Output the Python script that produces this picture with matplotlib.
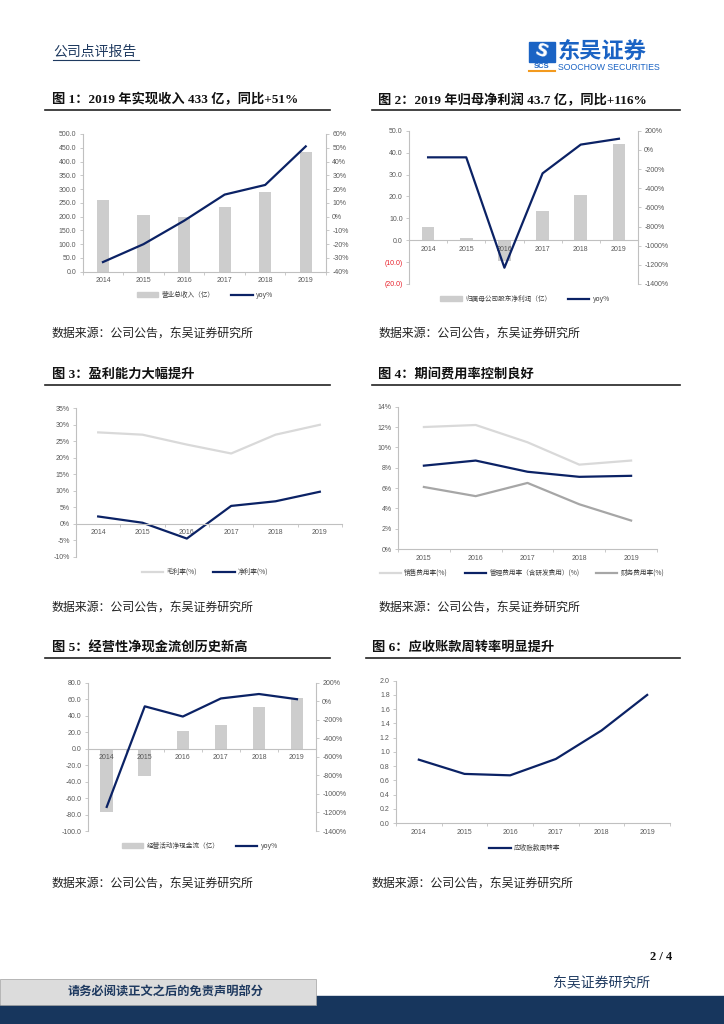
import numpy as np
import matplotlib.pyplot as plt
from matplotlib.patches import Rectangle, Patch
from matplotlib.lines import Line2D

plt.rcParams['font.family'] = ['Liberation Sans', 'Noto Sans CJK SC', 'DejaVu Sans']

W, H = 724, 1024
NAVY = '#0b2265'
BAR = '#cdcdcd'
TICK = '#595959'
SPINE = '#c0c0c0'
CJK = ['Noto Sans CJK SC', 'DejaVu Sans']
SERIF = ['Liberation Serif', 'Noto Sans CJK SC']

# ---- datos ----
anios = ['2014', '2015', '2016', '2017', '2018', '2019']
anios_gastos = ['2015', '2016', '2017', '2018', '2019']

ingresos = [260, 207, 200, 234, 288, 433]
ingresos_yoy = [-33, -20, -3, 16, 23, 51]

beneficio = [6.0, 1.0, -9.5, 13.3, 20.5, 43.7]
beneficio_yoy = [-78, -78, -1230, -245, 55, 116]

margen_bruto = [27.7, 27.0, 24.0, 21.3, 27.0, 30.0]
margen_neto = [2.2, 0.3, -4.5, 5.4, 6.8, 9.7]

gasto_ventas = [12.0, 12.2, 10.5, 8.3, 8.7]
gasto_admin = [8.2, 8.7, 7.6, 7.1, 7.2]
gasto_fin = [6.1, 5.2, 6.5, 4.4, 2.8]

flujo_caja = [-77, -33, 21.5, 29, 51, 62]
flujo_yoy = [-1140, -55, -165, 30, 78, 22]

rotacion = [0.89, 0.69, 0.67, 0.90, 1.30, 1.80]

fig = plt.figure(figsize=(W / 100, H / 100), dpi=100)


def caja(x0, y0, x1, y1):
    return [x0 / W, 1 - y1 / H, (x1 - x0) / W, (y1 - y0) / H]


def fx(x):
    return x / W


def fy(y):
    return 1 - y / H


def estilo(ax):
    for s in ['top', 'right']:
        ax.spines[s].set_visible(False)
    ax.spines['left'].set_color(SPINE)
    ax.spines['bottom'].set_color(SPINE)
    ax.spines['left'].set_linewidth(0.8)
    ax.spines['bottom'].set_linewidth(0.8)
    ax.tick_params(axis='y', labelsize=5, colors=TICK, length=2.5, width=0.6, pad=2)
    ax.tick_params(axis='y', color=SPINE)
    ax.tick_params(axis='x', which='major', length=0, labelsize=5, labelcolor=TICK, pad=4)
    ax.tick_params(axis='x', which='minor', length=2.5, color=SPINE, width=0.6)
    ax.set_facecolor('none')


def eje_derecho(ax):
    ax2 = ax.twinx()
    for s in ['top', 'left', 'bottom']:
        ax2.spines[s].set_visible(False)
    ax2.spines['right'].set_color(SPINE)
    ax2.spines['right'].set_linewidth(0.8)
    ax2.tick_params(axis='y', labelsize=5, labelcolor=TICK, color=SPINE, length=2.5, width=0.6, pad=2)
    return ax2


def leyenda(ax, handles, labels, cx, cy):
    ax.legend(handles, labels, loc='center', bbox_to_anchor=(fx(cx), fy(cy)),
              bbox_transform=fig.transFigure, ncol=len(labels), frameon=False,
              prop={'family': CJK, 'size': 4.8}, labelcolor='#404040',
              handlelength=3.2, columnspacing=2.5, handletextpad=0.5)


def cabecera(texto, x, y, x0, x1):
    fig.text(fx(x), fy(y), texto, family=SERIF, weight='bold', fontsize=9.5,
             va='center', ha='left', color='#111111')
    fig.add_artist(Line2D([fx(x0), fx(x1)], [fy(y + 10), fy(y + 10)], color='#222222', lw=1.2))


def fuente(x, y):
    fig.text(fx(x), fy(y), '数据来源：公司公告，东吴证券研究所', family=CJK, fontsize=8.6,
             va='center', ha='left', color='#222222')


x = np.arange(len(anios))
bordes = np.arange(len(anios) + 1) - 0.5

# ---- Figura 1 ----
ax = fig.add_axes(caja(82.7, 134, 326, 271.7))
estilo(ax)
ax.bar(x, ingresos, width=0.3, color=BAR)
ax.set_ylim(0, 500)
ax.set_yticks(np.arange(0, 501, 50), [f'{v:.1f}' for v in np.arange(0, 501, 50)])
ax.set_xlim(-0.5, 5.5)
ax.set_xticks(x, anios)
ax.set_xticks(bordes, minor=True)
ax2 = eje_derecho(ax)
ax2.plot(x, ingresos_yoy, color=NAVY, lw=1.6)
ax2.set_ylim(-40, 60)
ax2.set_yticks(np.arange(-40, 61, 10), [f'{v}%' for v in range(-40, 61, 10)])
leyenda(ax, [Patch(color=BAR), Line2D([], [], color=NAVY, lw=1.6)],
        ['营业总收入（亿）', 'yoy%'], 205, 295)

# ---- Figura 2 ----
ax = fig.add_axes(caja(409, 130.7, 638, 284))
estilo(ax)
ax.bar(x, beneficio, width=0.33, color=BAR)
ax.set_ylim(-20, 50)
t = np.arange(-20, 51, 10)
ax.set_yticks(t, [f'({abs(v):.1f})' if v < 0 else f'{v:.1f}' for v in t])
for lab, v in zip(ax.get_yticklabels(), t):
    if v < 0:
        lab.set_color('#e8202a')
ax.spines['bottom'].set_position(('data', 0))
ax.set_xlim(-0.5, 5.5)
ax.set_xticks(x, anios)
ax.set_xticks(bordes, minor=True)
ax2 = eje_derecho(ax)
ax2.plot(x, beneficio_yoy, color=NAVY, lw=1.6)
ax2.set_ylim(-1400, 200)
ax2.set_yticks(np.arange(-1400, 201, 200), [f'{v}%' for v in range(-1400, 201, 200)])
leyenda(ax, [Patch(color=BAR), Line2D([], [], color=NAVY, lw=1.6)],
        ['归属母公司股东净利润（亿）', 'yoy%'], 525, 299)

# ---- Figura 3 ----
ax = fig.add_axes(caja(76, 408.3, 342, 556.7))
estilo(ax)
ax.plot(x, margen_bruto, color='#d9d9d9', lw=1.6)
ax.plot(x, margen_neto, color=NAVY, lw=1.6)
ax.set_ylim(-10, 35)
ax.set_yticks(np.arange(-10, 36, 5), [f'{v}%' for v in range(-10, 36, 5)])
ax.spines['bottom'].set_position(('data', 0))
ax.set_xlim(-0.5, 5.5)
ax.set_xticks(x, anios)
ax.set_xticks(bordes, minor=True)
leyenda(ax, [Line2D([], [], color='#d9d9d9', lw=1.6), Line2D([], [], color=NAVY, lw=1.6)],
        ['毛利率(%)', '净利率(%)'], 205, 572)

# ---- Figura 4 ----
x5 = np.arange(len(anios_gastos))
ax = fig.add_axes(caja(398, 406.7, 657, 549))
estilo(ax)
ax.plot(x5, gasto_ventas, color='#d9d9d9', lw=1.6)
ax.plot(x5, gasto_admin, color=NAVY, lw=1.6)
ax.plot(x5, gasto_fin, color='#a6a6a6', lw=1.6)
ax.set_ylim(0, 14)
ax.set_yticks(np.arange(0, 15, 2), [f'{v}%' for v in range(0, 15, 2)])
ax.set_xlim(-0.5, 4.5)
ax.set_xticks(x5, anios_gastos)
ax.set_xticks(np.arange(6) - 0.5, minor=True)
leyenda(ax, [Line2D([], [], color='#d9d9d9', lw=1.6), Line2D([], [], color=NAVY, lw=1.6),
             Line2D([], [], color='#a6a6a6', lw=1.6)],
        ['销售费用率(%)', '管理费用率（含研发费用）(%)', '财务费用率(%)'], 522, 573)

# ---- Figura 5 ----
ax = fig.add_axes(caja(87.7, 682.7, 316, 831))
estilo(ax)
ax.bar(x, flujo_caja, width=0.33, color=BAR)
ax.set_ylim(-100, 80)
ax.set_yticks(np.arange(-100, 81, 20), [f'{v:.1f}' for v in np.arange(-100, 81, 20)])
ax.spines['bottom'].set_position(('data', 0))
ax.set_xlim(-0.5, 5.5)
ax.set_xticks(x, anios)
ax.set_xticks(bordes, minor=True)
ax2 = eje_derecho(ax)
ax2.plot(x, flujo_yoy, color=NAVY, lw=1.6)
ax2.set_ylim(-1400, 200)
ax2.set_yticks(np.arange(-1400, 201, 200), [f'{v}%' for v in range(-1400, 201, 200)])
leyenda(ax, [Patch(color=BAR), Line2D([], [], color=NAVY, lw=1.6)],
        ['经营活动净现金流（亿）', 'yoy%'], 200, 846)

# ---- Figura 6 ----
ax = fig.add_axes(caja(396, 680.7, 670, 823))
estilo(ax)
ax.plot(x, rotacion, color=NAVY, lw=1.6)
ax.set_ylim(0, 2.0)
ax.set_yticks(np.arange(0, 2.01, 0.2), [f'{v:.1f}' for v in np.arange(0, 2.01, 0.2)])
ax.set_xlim(-0.5, 5.5)
ax.set_xticks(x, anios)
ax.set_xticks(bordes, minor=True)
leyenda(ax, [Line2D([], [], color=NAVY, lw=1.6)], ['应收账款周转率'], 525, 848)

# ---- titulos y fuentes ----
cabecera('图 1：2019 年实现收入 433 亿，同比+51%', 52, 100, 45, 330)
cabecera('图 2：2019 年归母净利润 43.7 亿，同比+116%', 378, 100, 372, 680)
cabecera('图 3：盈利能力大幅提升', 52, 375, 45, 330)
cabecera('图 4：期间费用率控制良好', 378, 375, 372, 680)
cabecera('图 5：经营性净现金流创历史新高', 52, 648, 45, 330)
cabecera('图 6：应收账款周转率明显提升', 372, 648, 366, 680)

fuente(52, 333)
fuente(378, 333)
fuente(52, 607)
fuente(378, 607)
fuente(52, 883)
fuente(372, 883)

# ---- cabecera de pagina ----
fig.text(fx(53), fy(52), '公司点评报告', family=CJK, fontsize=10, color='#1f3a60', va='center')
fig.add_artist(Line2D([fx(53), fx(139)], [fy(60), fy(60)], color='#1f3a60', lw=0.8))
fig.add_artist(Rectangle((fx(529), fy(62)), 26 / W, 20 / H, transform=fig.transFigure,
                         color='#1a63c4'))
fig.text(fx(542), fy(52), 'S', fontsize=13, weight='bold', color='white', ha='center', va='center',
         family=['DejaVu Sans'], rotation=-20)
fig.text(fx(542), fy(67), 'SCS', fontsize=5.5, weight='bold', color='#1a63c4', ha='center', va='center')
fig.add_artist(Line2D([fx(529), fx(555)], [fy(71), fy(71)], color='#f39a1e', lw=1.5))
fig.text(fx(558), fy(51), '东吴证券', family=CJK, fontsize=16, weight='bold', color='#1a63c4',
         va='center', ha='left')
fig.text(fx(558), fy(67), 'SOOCHOW SECURITIES', fontsize=6.3, color='#1a63c4', va='center', ha='left')

# ---- pie de pagina ----
fig.add_artist(Rectangle((fx(316), 0), 1 - fx(316), fy(996), transform=fig.transFigure,
                         color='#17365d', zorder=0))
fig.add_artist(Rectangle((0, 0), fx(316), fy(1005), transform=fig.transFigure,
                         color='#17365d', zorder=0))
fig.add_artist(Rectangle((0, fy(1005)), fx(316), 26 / H, transform=fig.transFigure,
                         facecolor='#dcdcdc', edgecolor='#a0a0a0', lw=0.5, zorder=1))
fig.text(fx(166), fy(992), '请务必阅读正文之后的免责声明部分', family=CJK, fontsize=8.8,
         weight='bold', color='#1f3a60', ha='center', va='center')
fig.text(fx(602), fy(983), '东吴证券研究所', family=CJK, fontsize=10, color='#1f3a60',
         ha='center', va='center')
fig.text(fx(672), fy(957), '2 / 4', family=SERIF, fontsize=9, weight='bold', color='#111111',
         ha='right', va='center')

fig.savefig('out.png', dpi=100)
